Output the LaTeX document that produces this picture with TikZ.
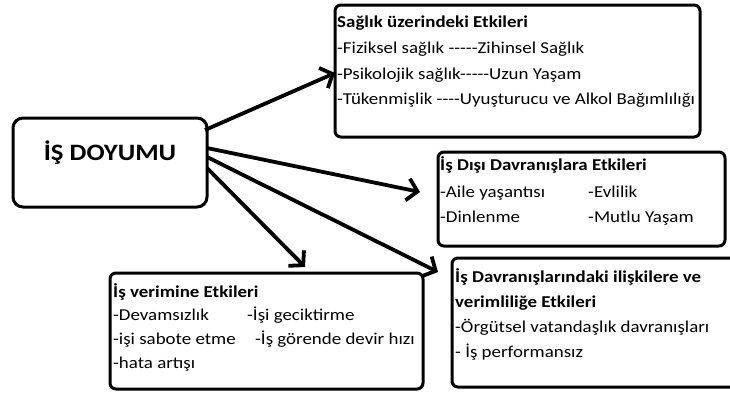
\documentclass[tikz,border=0pt]{standalone}
\usepackage{fontspec}
\setmainfont{Carlito}[Ligatures=TeXOff,FakeStretch=1.14]
\usetikzlibrary{arrows.meta}
\begin{document}
\begin{tikzpicture}[x=1pt,y=-1pt,
  box/.style={draw,line width=3pt,rounded corners=6pt,inner sep=0pt},
  conn/.style={line width=3.8pt,-{Straight Barb[length=10pt,width=22pt,line width=3.8pt]}},
  txt/.style={anchor=base west,inner sep=0pt,font=\fontsize{16.6}{19}\selectfont},
  ttl/.style={txt,font=\fontsize{16.6}{19}\selectfont\bfseries}]
\useasboundingbox (0,0) rectangle (730,394);
% boxes
\draw[box,rounded corners=10pt] (13,118) rectangle (207,207);
\node[anchor=base,inner sep=0pt,font=\fontsize{23.5}{27}\selectfont\bfseries] (main) at (110,160) {İŞ DOYUMU};
\coordinate (s1) at (205,130);
\coordinate (s2) at (207,148);
\coordinate (s3) at (207,157);
\coordinate (s4) at (207,168);

\draw[box] (335,5) rectangle (700,137);
\node[ttl] (a0) at (337,27) {Sağlık üzerindeki Etkileri};
\node[txt] (a1) at (337,53) {-Fiziksel sağlık -----Zihinsel Sağlık};
\node[txt] (a2) at (337,79) {-Psikolojik sağlık-----Uzun Yaşam};
\node[txt] (a3) at (337,104) {-Tükenmişlik ----Uyuşturucu ve Alkol Bağımlılığı};
\coordinate (t1) at (335,73);

\draw[box] (438,152) rectangle (725,246);
\node[ttl] (b0) at (440,170) {İş Dışı Davranışlara Etkileri};
\node[txt] (b1) at (440,197) {-Aile yaşantısı};
\node[txt] (b2) at (588,197) {-Evlilik};
\node[txt] (b3) at (440,222) {-Dinlenme};
\node[txt] (b4) at (588,222) {-Mutlu Yaşam};
\coordinate (t2) at (420,192);

\draw[box] (110,273) rectangle (423,389);
\node[ttl] (c0) at (113,297) {İş verimine Etkileri};
\node[txt] (c1) at (113,320) {-Devamsızlık};
\node[txt] (c2) at (247,320) {-İşi geciktirme};
\node[txt] (c3) at (113,344) {-işi sabote etme};
\node[txt] (c4) at (255,344) {-İş görende devir hızı};
\node[txt] (c5) at (113,368) {-hata artışı};
\coordinate (t4) at (305,267);

\draw[box] (452,258) rectangle (750,387);
\node[ttl] (d0) at (455,282) {İş Davranışlarındaki ilişkilere ve};
\node[ttl] (d1) at (455,307) {verimliliğe Etkileri};
\node[txt] (d2) at (455,332) {-Örgütsel vatandaşlık davranışları};
\node[txt] (d3) at (455,357) {- İş performansız};
\coordinate (t3) at (438,272);

\draw[conn] (s1) -- (t1);
\draw[conn] (s2) -- (t2);
\draw[conn] (s3) -- (t3);
\draw[conn] (s4) -- (t4);
\end{tikzpicture}
\end{document}
